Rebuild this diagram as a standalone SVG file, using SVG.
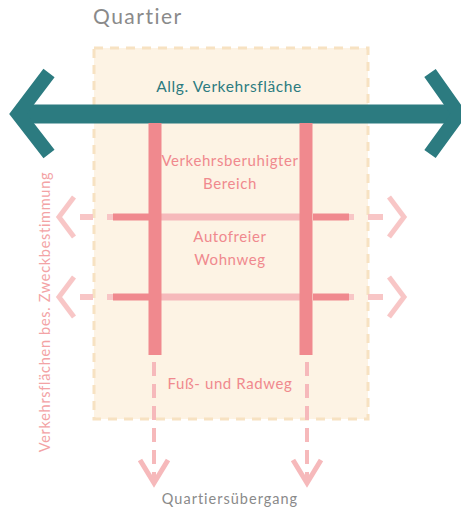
<svg xmlns="http://www.w3.org/2000/svg" width="461" height="511" viewBox="0 0 461 511">
<style>
.t{font-family:Lato,"Noto Sans",sans-serif}
.pink{fill:#f0898e;font-size:15px;letter-spacing:0.6px}
.gray{fill:#8a8a8a}
.teal{stroke:#2c7b80;fill:none}
.lp{stroke:#f6b9bb;fill:none}
.dp{stroke:#f0898e;fill:none}
</style>
<rect width="461" height="511" fill="#ffffff"/>
<g id="quartier">
<rect x="94" y="48" width="274" height="371" fill="#fdf3e4" stroke="#f7e2c2" stroke-width="3" stroke-dasharray="9 7"/>
<text class="t gray" x="93" y="24" font-size="21" letter-spacing="1.5">Quartier</text>
</g>
<g id="connectors">
<g id="verkehrsflaeche">
<line class="teal" x1="22" y1="114" x2="452" y2="114" stroke-width="19"/>
<polyline class="teal" points="49,73 18,114 49,154" stroke-width="14"/>
<polyline class="teal" points="430,73 459,114 430,154" stroke-width="14"/>
</g>
<g id="wohnwege">
<line class="lp" x1="161" y1="217" x2="300" y2="217" stroke-width="7"/>
<line class="lp" x1="161" y1="297" x2="300" y2="297" stroke-width="7"/>
<line class="dp" x1="113" y1="217" x2="149" y2="217" stroke-width="7"/>
<line class="dp" x1="313" y1="217" x2="349" y2="217" stroke-width="7"/>
<line class="dp" x1="113" y1="297" x2="149" y2="297" stroke-width="7"/>
<line class="dp" x1="313" y1="297" x2="349" y2="297" stroke-width="7"/>
<g stroke="#f8c6c6" stroke-width="6" fill="none">
<line x1="80" y1="217" x2="93" y2="217"/><line x1="107" y1="217" x2="113" y2="217"/>
<line x1="349" y1="217" x2="354" y2="217"/><line x1="368" y1="217" x2="383" y2="217"/>
<line x1="80" y1="297" x2="93" y2="297"/><line x1="107" y1="297" x2="113" y2="297"/>
<line x1="349" y1="297" x2="354" y2="297"/><line x1="368" y1="297" x2="383" y2="297"/>
<polyline points="74,197 59,217 74,237" stroke-width="5"/>
<polyline points="389,197 404,217 389,237" stroke-width="5"/>
<polyline points="74,277 59,297 74,317" stroke-width="5"/>
<polyline points="389,277 404,297 389,317" stroke-width="5"/>
</g>
</g>
<g id="verkehrsberuhigt">
<line class="dp" x1="155" y1="123" x2="155" y2="355" stroke-width="13"/>
<line class="dp" x1="306" y1="123" x2="306" y2="355" stroke-width="13"/>
</g>
<g id="fussradweg" stroke="#f6b9bb" fill="none">
<line x1="154" y1="362" x2="154" y2="482" stroke-width="4" stroke-dasharray="14 8"/>
<line x1="307" y1="362" x2="307" y2="482" stroke-width="4" stroke-dasharray="14 8"/>
<polyline points="140,460 154,483 168,460" stroke-width="5"/>
<polyline points="293,460 307,483 321,460" stroke-width="5"/>
</g>
</g>
<g id="labels">
<text class="t" x="229" y="92" text-anchor="middle" font-size="15.5" letter-spacing="0.6" fill="#2c7b80">Allg. Verkehrsfläche</text>
<text class="t pink" x="230" y="166" text-anchor="middle">Verkehrsberuhigter</text>
<text class="t pink" x="230" y="189" text-anchor="middle">Bereich</text>
<text class="t pink" x="230" y="242" text-anchor="middle">Autofreier</text>
<text class="t pink" x="230" y="265" text-anchor="middle">Wohnweg</text>
<text class="t pink" x="230" y="389" text-anchor="middle">Fuß- und Radweg</text>
<text class="t gray" x="230" y="504" text-anchor="middle" font-size="14.5" letter-spacing="1">Quartiersübergang</text>
<text class="t" transform="translate(50,312) rotate(-90)" text-anchor="middle" font-size="14.5" letter-spacing="0.7" fill="#f3a3a5">Verkehrsflächen bes. Zweckbestimmung</text>
</g>
</svg>
